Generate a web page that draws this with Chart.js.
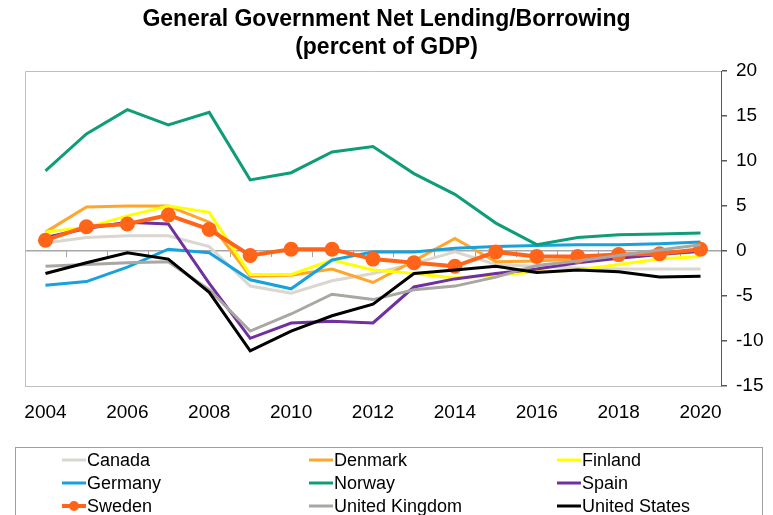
<!DOCTYPE html>
<html>
<head>
<meta charset="utf-8">
<title>General Government Net Lending/Borrowing</title>
<script src="https://cdn.jsdelivr.net/npm/chart.js@4/dist/chart.umd.min.js"></script>
<style>
  html,body{margin:0;padding:0;background:#fff;}
  #wrap{position:relative;width:773px;height:515px;}
</style>
</head>
<body>
<div id="wrap"><canvas id="chart"></canvas></div>
<script>
'use strict';

/* Jahre auf der x-Achse */
const years = ['2004','2005','2006','2007','2008','2009','2010','2011','2012',
               '2013','2014','2015','2016','2017','2018','2019','2020'];

/* Saldo in % des BIP, je Land */
const canada  = [0.9, 1.5, 1.7, 1.7, 0.5, -3.9, -4.7, -3.3, -2.5, -1.4, -0.1, -1.5, -1.7, -1.9, -2.0, -2.0, -2.0];
const denmark = [2.1, 4.9, 5.0, 5.0, 3.2, -2.8, -2.7, -2.0, -3.5, -1.1, 1.4, -1.2, -1.1, -0.9, -0.6, -0.3, -0.1];
const finland = [2.1, 2.6, 3.9, 5.0, 4.3, -2.6, -2.6, -1.0, -2.1, -2.5, -3.0, -2.7, -2.3, -2.1, -1.5, -0.9, -0.6];
const germany = [-3.8, -3.4, -1.8, 0.2, -0.2, -3.2, -4.2, -1.0, -0.1, -0.1, 0.3, 0.5, 0.6, 0.7, 0.7, 0.8, 1.0];
const norway  = [8.9, 13.0, 15.7, 14.0, 15.4, 7.9, 8.7, 11.0, 11.6, 8.6, 6.3, 3.1, 0.7, 1.5, 1.8, 1.9, 2.0];
const spain   = [1.5, 2.5, 3.2, 3.0, -3.6, -9.7, -8.0, -7.8, -8.0, -4.0, -3.1, -2.5, -2.0, -1.3, -0.8, -0.4, 0.0];
const sweden  = [1.2, 2.7, 3.0, 4.0, 2.4, -0.5, 0.2, 0.2, -0.9, -1.3, -1.7, -0.1, -0.6, -0.6, -0.4, -0.3, 0.2];
const uk      = [-1.7, -1.5, -1.3, -1.2, -4.3, -8.9, -7.0, -4.8, -5.4, -4.3, -3.9, -2.9, -1.6, -1.1, -0.5, 0.1, 0.7];
const us      = [-2.5, -1.3, -0.2, -0.9, -4.6, -11.1, -8.9, -7.2, -5.9, -2.5, -2.1, -1.7, -2.4, -2.1, -2.3, -2.9, -2.8];

const countries = ['Canada','Denmark','Finland','Germany','Norway','Spain','Sweden','United Kingdom','United States'];
const colors    = ['#dad6d0','#ffa62b','#ffff00','#17a2dc','#0f9d77','#7030a0','#ff6419','#aaa6a2','#000000'];
const series    = [canada, denmark, finland, germany, norway, spain, sweden, uk, us];

const titleLines = ['General Government Net Lending/Borrowing','(percent of GDP)'];

const FONT = '"Liberation Sans", Arial, sans-serif';
const AXIS_DARK = '#595959', FRAME = '#bfbfbf', ZERO = '#a6a6a6';

/* Rahmen oben/links + kleine Striche auf der Nulllinie zwischen den Jahren */
const frame = {
  id:'frame',
  beforeDatasetsDraw(chart){
    const {ctx, chartArea:a, scales:{x,y}} = chart;
    ctx.save();
    ctx.strokeStyle = FRAME; ctx.lineWidth = 1;
    ctx.beginPath();
    ctx.moveTo(a.left+.5, a.bottom); ctx.lineTo(a.left+.5, a.top+.5); ctx.lineTo(a.right, a.top+.5);
    ctx.stroke();
    const y0 = Math.round(y.getPixelForValue(0));
    ctx.strokeStyle = ZERO; ctx.lineWidth = 1;
    ctx.beginPath();
    for(let i=0;i<years.length-1;i++){
      const px = Math.round((x.getPixelForTick(i)+x.getPixelForTick(i+1))/2)+.5;
      ctx.moveTo(px, y0); ctx.lineTo(px, y0+6);
    }
    ctx.stroke();
    ctx.restore();
  }
};

/* Titel mittig über die ganze Breite (nicht nur über die Zeichenfläche) */
const pageTitle = {
  id:'pageTitle',
  afterDraw(chart){
    const {ctx, width} = chart;
    ctx.save();
    ctx.font = 'bold 23px '+FONT; ctx.fillStyle = '#000';
    ctx.textAlign = 'center'; ctx.textBaseline = 'middle';
    titleLines.forEach((t,i)=> ctx.fillText(t, width/2, 20 + i*27.5));
    ctx.restore();
  }
};

/* Legende im Kasten unten, drei Spalten */
const boxLegend = {
  id:'boxLegend',
  afterDraw(chart){
    const {ctx} = chart;
    const colX = [62, 309, 557], rowY = [460, 483, 506];
    ctx.save();
    ctx.strokeStyle = '#a0a0a0'; ctx.lineWidth = 1;
    ctx.strokeRect(15.5, 447.5, 747, 120);
    ctx.font = '18px '+FONT; ctx.fillStyle = '#000'; ctx.textBaseline = 'middle';
    chart.data.datasets.forEach((ds,i)=>{
      const cx = colX[i%3], cy = rowY[Math.floor(i/3)];
      ctx.strokeStyle = ds.borderColor; ctx.lineWidth = ds.borderWidth;
      ctx.beginPath(); ctx.moveTo(cx, cy); ctx.lineTo(cx+24, cy); ctx.stroke();
      if(ds.pointRadius){
        ctx.fillStyle = ds.borderColor;
        ctx.beginPath(); ctx.arc(cx+12, cy, 5, 0, Math.PI*2); ctx.fill();
        ctx.fillStyle = '#000';
      }
      ctx.fillText(ds.label, cx+25, cy+1);
    });
    ctx.restore();
  }
};

const datasets = countries.map((c,i)=>({
  label:c, data:series[i],
  borderColor:colors[i], backgroundColor:colors[i],
  borderWidth: c==='Sweden' ? 4 : 3,
  pointRadius: c==='Sweden' ? 7.5 : 0,
  pointHoverRadius: c==='Sweden' ? 7.5 : 0,
  pointBorderWidth:0,
  tension:0,
  order: countries.length - i      // spätere Reihen liegen oben
}));

new Chart(document.getElementById('chart'), {
  type:'line',
  data:{ labels:years, datasets },
  options:{
    responsive:true, maintainAspectRatio:false, animation:false,
    layout:{ padding:{ left:25, right:0, top:71, bottom:89 } },
    plugins:{
      legend:{ display:false },
      tooltip:{ enabled:false },
      title:{ display:false }
    },
    scales:{
      x:{
        type:'category', offset:true,
        grid:{ display:false, drawTicks:false },
        border:{ display:true, color:FRAME, width:1 },
        ticks:{ color:'#000', font:{ family:FONT, size:19 }, padding:15,
          autoSkip:false, maxRotation:0,
          callback:(v,i)=> i%2===0 ? years[i] : '' },
        afterFit:(s)=>{ s.height = 40; }
      },
      y:{
        position:'right', min:-15, max:20,
        grid:{ color:(c)=> c.tick && c.tick.value===0 ? ZERO : 'rgba(0,0,0,0)',
          lineWidth:1.5, tickLength:6, tickColor:AXIS_DARK, drawTicks:true },
        border:{ display:true, color:AXIS_DARK, width:1 },
        ticks:{ stepSize:5, color:'#000', font:{ family:FONT, size:19 }, padding:9 },
        afterFit:(s)=>{ s.width = 52; }
      }
    }
  },
  plugins:[frame, pageTitle, boxLegend]
});
</script>
</body>
</html>
